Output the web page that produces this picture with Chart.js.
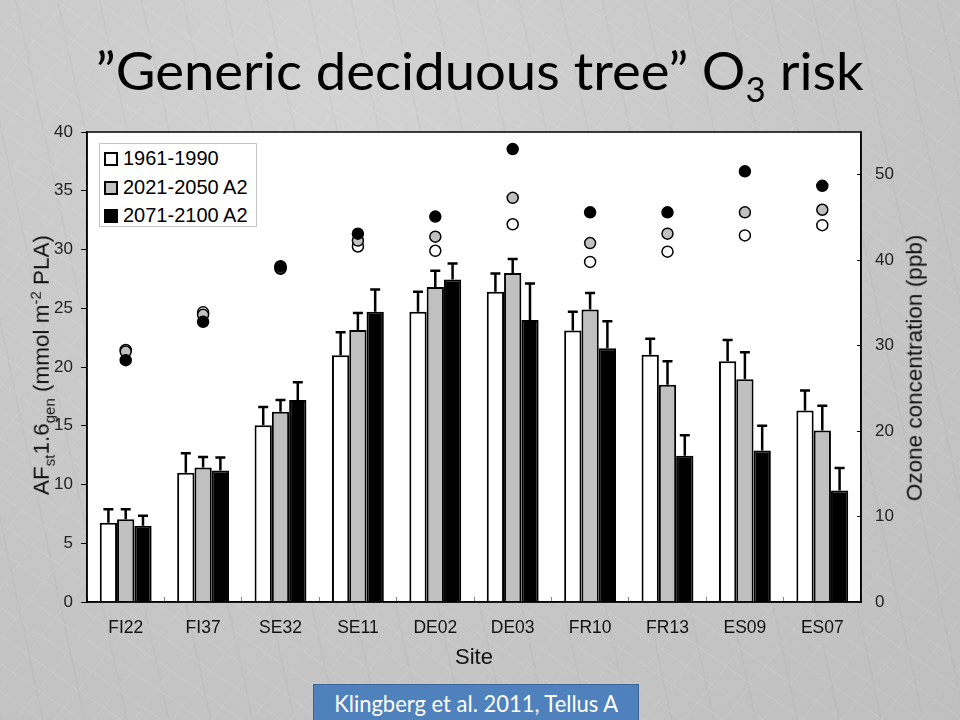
<!DOCTYPE html>
<html>
<head>
<meta charset="utf-8">
<script src="https://cdn.jsdelivr.net/npm/chart.js@4.4.1/dist/chart.umd.min.js"></script>
<style>
  html, body { margin: 0; padding: 0; }
  body {
    width: 960px; height: 720px; overflow: hidden; position: relative;
    background-color: #c8c8c8;
    background-image:
      repeating-linear-gradient(35deg, rgba(255,255,255,0.07) 0 1px, transparent 1px 23px),
      repeating-linear-gradient(-52deg, rgba(255,255,255,0.06) 0 1px, transparent 1px 31px),
      repeating-linear-gradient(78deg, rgba(120,120,120,0.05) 0 2px, transparent 2px 41px),
      radial-gradient(ellipse at 35% 15%, #d3d3d3 0%, #c6c6c6 60%, #bfbfbf 100%);
    font-family: "Liberation Sans", Arial, sans-serif;
  }
  #wrap { position: absolute; left: 0; top: 0; width: 960px; height: 720px; }
  .title {
    position: absolute; left: 0; width: 960px; top: 43px; text-align: center;
    font-family: Lato, "Open Sans", sans-serif; font-size: 53px; line-height: 53px; color: #000;
  }
  .title span { display: inline-block; transform-origin: center; }
  .title sub { font-size: 34px; vertical-align: -12px; line-height: 0; }
  .ylab {
    position: absolute; white-space: nowrap; font-size: 22.5px; color: #111;
    transform: translate(-50%, -50%) rotate(-90deg); line-height: 1;
  }
  .ylab sub, .ylab sup { font-size: 15px; line-height: 0; }
  .legend {
    position: absolute; left: 99px; top: 143px; width: 158px; height: 84px;
    background: #fff; border: 1px solid #c4c4c4; box-sizing: border-box;
  }
  .legend .row { position: absolute; left: 4px; height: 20px; font-size: 20px; line-height: 20px; color: #000; white-space: nowrap; }
  .legend .sw { display: inline-block; width: 14px; height: 14px; border: 2px solid #000; box-sizing: border-box; vertical-align: -1px; margin-right: 5px; }
  .cite {
    position: absolute; left: 313px; top: 684px; width: 326px; height: 44px;
    background: #4f81bd; border: 1.5px solid #3a6595; box-sizing: border-box;
    color: #fff; text-align: center; font-family: Lato, "Open Sans", sans-serif;
    font-size: 24px; line-height: 36px;
  }
  .cite span { display: inline-block; transform-origin: center; }
</style>
</head>
<body>
<div id="wrap"><canvas id="chart" width="960" height="720"></canvas></div>

<div class="title"><span id="titleText">”Generic deciduous tree” O<sub>3</sub> risk</span></div>

<div class="ylab" style="left:42px; top:365px;">AF<sub>st</sub>1.6<sub>gen</sub> (mmol m<sup>-2</sup> PLA)</div>
<div class="ylab" style="left:915px; top:368px;">Ozone concentration (ppb)</div>

<div class="legend" id="legend"></div>

<div class="cite"><span id="citeText">Klingberg et al. 2011, Tellus A</span></div>

<script>
// Sites and periods
const sites = ['FI22', 'FI37', 'SE32', 'SE11', 'DE02', 'DE03', 'FR10', 'FR13', 'ES09', 'ES07'];
const periods = ['1961-1990', '2021-2050 A2', '2071-2100 A2'];
const periodColors = ['#ffffff', '#c0c0c0', '#000000'];

// AFst1.6gen (mmol m-2 PLA), bars
const af1961 = [6.75, 11.0, 15.05, 21.0, 24.7, 26.4, 23.1, 21.05, 20.5, 16.3];
const af2021 = [7.05, 11.45, 16.2, 23.15, 26.8, 28.0, 24.9, 18.5, 18.95, 14.6];
const af2071 = [6.5, 11.2, 17.2, 24.7, 27.45, 24.0, 21.6, 12.45, 12.9, 9.5];

// error bar sizes (upper only)
const err1961 = [1.15, 1.65, 1.55, 1.95, 1.7, 1.55, 1.6, 1.35, 1.8, 1.7];
const err2021 = [0.85, 0.9, 1.0, 1.45, 1.4, 1.2, 1.4, 2.0, 2.3, 2.1];
const err2071 = [0.85, 1.1, 1.5, 1.9, 1.35, 3.1, 2.3, 1.75, 2.1, 1.9];

// Ozone concentration (ppb), circles on right axis
const o3_1961 = [29.5, 33.9, 39.0, 41.6, 41.1, 44.2, 39.8, 41.0, 42.9, 44.1];
const o3_2021 = [29.3, 33.6, 39.1, 42.3, 42.75, 47.3, 42.0, 43.1, 45.6, 45.9];
const o3_2071 = [28.3, 32.8, 39.3, 43.1, 45.1, 53.0, 45.6, 45.6, 50.4, 48.7];

// Legend
const legendEl = document.getElementById('legend');
periods.forEach((p, i) => {
    const row = document.createElement('div');
    row.className = 'row';
    row.style.top = (4 + i * 28.5) + 'px';
    row.innerHTML = `<span class="sw" style="background:${periodColors[i]}"></span>${p}`;
    legendEl.appendChild(row);
});

// squeeze the Calibri-ish texts to their width in the slide
function fitWidth(id, target) {
    const el = document.getElementById(id);
    const w = el.getBoundingClientRect().width;
    el.style.transform = `scaleX(${target / w})`;
}
fitWidth('titleText', 768);
fitWidth('citeText', 284);

// white plot area and frame
const frame = {
    id: 'frame',
    beforeDraw(chart) {
        const a = chart.chartArea, ctx = chart.ctx;
        ctx.save();
        ctx.fillStyle = '#fff';
        ctx.fillRect(a.left, a.top, a.right - a.left, a.bottom - a.top);
        ctx.restore();
    },
    afterDraw(chart) {
        const a = chart.chartArea, ctx = chart.ctx;
        ctx.save();
        ctx.strokeStyle = '#000';
        ctx.lineWidth = 1.5;
        ctx.strokeRect(a.left, a.top, a.right - a.left, a.bottom - a.top);
        ctx.restore();
    }
};

// upper error bars on the bars
const errorBars = {
    id: 'errorBars',
    afterDatasetsDraw(chart) {
        const ctx = chart.ctx, y = chart.scales.y;
        ctx.save();
        ctx.strokeStyle = '#000';
        ctx.lineWidth = 2.5;
        chart.data.datasets.forEach((ds, i) => {
            if (!ds.errors) return;
            chart.getDatasetMeta(i).data.forEach((bar, j) => {
                const top = y.getPixelForValue(ds.data[j] + ds.errors[j]);
                ctx.beginPath();
                ctx.moveTo(bar.x, bar.y);
                ctx.lineTo(bar.x, top);
                ctx.moveTo(bar.x - 5, top);
                ctx.lineTo(bar.x + 5, top);
                ctx.stroke();
            });
        });
        ctx.restore();
    }
};

Chart.defaults.font.family = '"Liberation Sans", Arial, sans-serif';
Chart.defaults.color = '#222';

const barSet = (label, data, errors, color) => ({
    type: 'bar', label, data, errors,
    backgroundColor: color, borderColor: '#000', borderWidth: 2,
    yAxisID: 'y', order: 3
});
const pointSet = (label, data, color, order) => ({
    type: 'line', label, data, showLine: false,
    pointRadius: 5.5, pointBorderWidth: 1.5, pointBackgroundColor: color,
    pointBorderColor: '#000', yAxisID: 'y2', order
});

new Chart(document.getElementById('chart'), {
    data: {
        labels: sites,
        datasets: [
            barSet(periods[0], af1961, err1961, periodColors[0]),
            barSet(periods[1], af2021, err2021, periodColors[1]),
            barSet(periods[2], af2071, err2071, periodColors[2]),
            pointSet(periods[0] + ' O3', o3_1961, periodColors[0], 2),
            pointSet(periods[1] + ' O3', o3_2021, periodColors[1], 1),
            pointSet(periods[2] + ' O3', o3_2071, periodColors[2], 0)
        ]
    },
    options: {
        responsive: false,
        devicePixelRatio: 1,
        animation: false,
        datasets: { bar: { categoryPercentage: 0.67, barPercentage: 1.0 } },
        layout: { padding: { top: 132, left: 0, right: 0, bottom: 0 } },
        plugins: { legend: { display: false }, tooltip: { enabled: false } },
        scales: {
            x: {
                offset: true,
                grid: { offset: true, drawOnChartArea: false, tickLength: -5, color: '#888', lineWidth: 1 },
                border: { display: true, color: '#000', width: 1.5 },
                ticks: { font: { size: 17.5 }, color: '#111', padding: 21 },
                title: { display: true, text: 'Site', font: { size: 22 }, color: '#111', padding: { top: 0, bottom: 49 } },
                afterFit: s => { s.height = 118; }
            },
            y: {
                position: 'left', min: 0, max: 40,
                grid: { drawOnChartArea: false, tickLength: 6, color: '#000', lineWidth: 1 },
                border: { display: true, color: '#000', width: 1.5 },
                ticks: { stepSize: 5, font: { size: 17 }, color: '#222', padding: 8 },
                afterFit: s => { s.width = 87; }
            },
            y2: {
                position: 'right', min: 0, max: 55,
                grid: { drawOnChartArea: false, tickLength: -4, color: '#000', lineWidth: 1 },
                border: { display: true, color: '#000', width: 1.5 },
                ticks: { stepSize: 10, includeBounds: false, font: { size: 17 }, color: '#222', padding: 18 },
                afterFit: s => { s.width = 99; }
            }
        }
    },
    plugins: [frame, errorBars]
});
</script>
</body>
</html>
